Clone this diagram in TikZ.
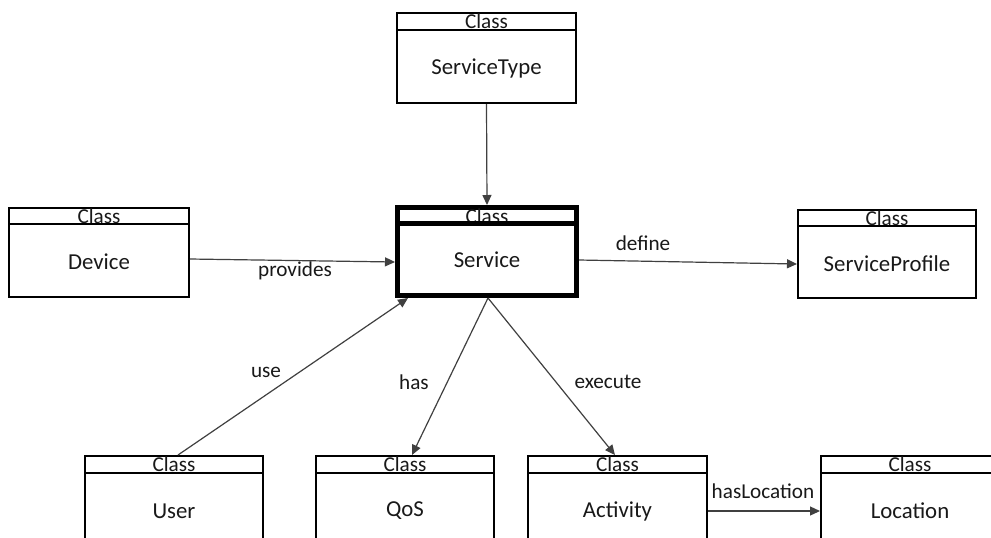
\documentclass[tikz,border=0pt]{standalone}
\usepackage{fontspec}
\setmainfont{Carlito}
\usetikzlibrary{arrows.meta}
\begin{document}
\begin{tikzpicture}[x=0.5pt,y=-0.5pt,
  classbox/.style={draw=black, line width=1pt, inner sep=0pt, fill=white},
  mainbox/.style={classbox, line width=2.5pt},
  hdrline/.style={draw=black, line width=1pt},
  mainhdrline/.style={draw=black, line width=2.5pt},
  hdr/.style={font=\fontsize{10.6}{12}\selectfont, inner sep=0pt, text=black!90},
  nm/.style={font=\fontsize{11.4}{13}\selectfont, inner sep=0pt, text=black!90},
  lbl/.style={font=\fontsize{10.6}{12}\selectfont, inner sep=0pt, text=black!90},
  conn/.style={draw=black!75, line width=0.6pt, -{Triangle[length=5pt,width=4.5pt]}}
]
\useasboundingbox (0,0) rectangle (991,537);
\clip (0,0) rectangle (991,537);
\fill[white] (0,0) rectangle (991,537);

% ServiceType
\node[classbox, minimum width=89.5pt, minimum height=45pt] (st) at (486.5,58) {};
\node[hdr] (sth) at (486.5,21) {Class};
\node[nm] (stn) at (486.5,68) {ServiceType};
\draw[hdrline] (396,30) -- (577,30);

% Service
\node[mainbox, minimum width=89.5pt, minimum height=44pt] (svc) at (487,251.5) {};
\node[hdr] (svch) at (487,216) {Class};
\node[nm] (svcn) at (487,260) {Service};
\draw[mainhdrline] (396,223) -- (578,223);

% Device
\node[classbox, minimum width=90pt, minimum height=44.5pt] (dev) at (99,252.5) {};
\node[hdr] (devh) at (99,216) {Class};
\node[nm] (devn) at (99,262) {Device};
\draw[hdrline] (8,224) -- (190,224);

% ServiceProfile
\node[classbox, minimum width=89pt, minimum height=44pt] (sp) at (887,254) {};
\node[hdr] (sph) at (887,218) {Class};
\node[nm] (spn) at (887,264) {ServiceProfile};
\draw[hdrline] (797,226) -- (977,226);

% User
\node[classbox, minimum width=89pt, minimum height=45pt] (user) at (174,501) {};
\node[hdr] (userh) at (174,464) {Class};
\node[nm] (usern) at (174,511) {User};
\draw[hdrline] (84,473) -- (264,473);

% QoS
\node[classbox, minimum width=89pt, minimum height=45pt] (qos) at (405,501) {};
\node[hdr] (qosh) at (405,464) {Class};
\node[nm] (qosn) at (405,511) {QoS};
\draw[hdrline] (315,473) -- (495,473);

% Activity
\node[classbox, minimum width=89.5pt, minimum height=45pt] (act) at (617.5,501) {};
\node[hdr] (acth) at (617.5,464) {Class};
\node[nm] (actn) at (617.5,511) {Activity};
\draw[hdrline] (527,473) -- (708,473);

% Location
\node[classbox, minimum width=89pt, minimum height=45pt] (loc) at (910,501) {};
\node[hdr] (loch) at (910,464) {Class};
\node[nm] (locn) at (910,511) {Location};
\draw[hdrline] (820,473) -- (1000,473);

% connectors
\draw[conn] (st.south) -- (svc.north);
\draw[conn] ([yshift=-3.25pt]dev.east) -- ([yshift=-5.25pt]svc.west);
\draw[conn] ([yshift=-4.25pt]svc.east) -- ([yshift=-5pt]sp.west);
\draw[conn] ([xshift=2pt]user.north) -- ([xshift=-39.5pt]svc.south);
\draw[conn] ([xshift=0.5pt]svc.south) -- ([xshift=3.5pt]qos.north);
\draw[conn] ([xshift=0.5pt]svc.south) -- ([xshift=-1.25pt]act.north);
\draw[conn] ([yshift=-5pt]act.east) -- ([yshift=-5pt]loc.west);

% labels
\node[lbl] (lprov) at (295,271) {provides};
\node[lbl] (ldef) at (643,243) {define};
\node[lbl] (luse) at (266,372) {use};
\node[lbl] (lhas) at (414,382) {has};
\node[lbl] (lexe) at (608,382) {execute};
\node[lbl] (lhl) at (763,491) {hasLocation};
\end{tikzpicture}
\end{document}
